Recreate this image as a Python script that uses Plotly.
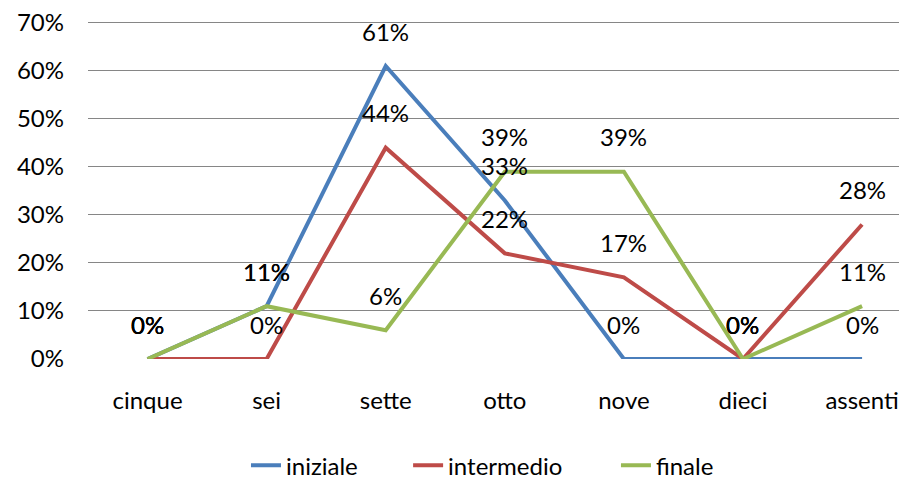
import plotly.graph_objects as go

categories = ["cinque", "sei", "sette", "otto", "nove", "dieci", "assenti"]
iniziale = [0, 11, 61, 33, 0, 0, 0]
intermedio = [0, 0, 44, 22, 17, 0, 28]
finale = [0, 11, 6, 39, 39, 0, 11]
y_ticks = [0, 10, 20, 30, 40, 50, 60, 70]

series = [
    ("iniziale", iniziale, "#4A7EBB", "legend", 0.1948),
    ("intermedio", intermedio, "#BE4B48", "legend2", 0.3947),
    ("finale", finale, "#98B954", "legend3", 0.651),
]

FONT = "Lato"
FS = 24
fig = go.Figure()
annotations = []
legends = {}
for name, vals, color, leg, lx in series:
    fig.add_trace(go.Scatter(
        x=list(range(len(categories))), y=vals, mode="lines", name=name,
        line=dict(color=color, width=4), legend=leg,
    ))
    legends[leg] = dict(orientation="h", x=lx, xanchor="left", y=-0.313, yanchor="middle",
                        font=dict(family=FONT, size=FS, color="#000000"),
                        bgcolor="rgba(0,0,0,0)")
    for i, v in enumerate(vals):
        annotations.append(dict(
            x=i, y=v, text=f"{v}%", showarrow=False, yshift=35,
            font=dict(family=FONT, size=FS, color="#000000"),
        ))

fig.update_layout(
    width=899, height=479,
    margin=dict(l=88, r=0, t=18, b=120, autoexpand=False),
    paper_bgcolor="white", plot_bgcolor="white",
    font=dict(family=FONT, size=FS, color="#000000"),
    annotations=annotations,
    showlegend=True,
    xaxis=dict(
        range=[-0.5, 6.31], tickmode="array",
        tickvals=list(range(len(categories))), ticktext=categories,
        showgrid=False, zeroline=False, showline=False, ticks="",
        ticklabelstandoff=25,
    ),
    yaxis=dict(
        range=[0, 71], tickmode="array", tickvals=y_ticks,
        ticktext=[f"{t}%" for t in y_ticks],
        showgrid=True, gridcolor="#868686", gridwidth=1,
        zeroline=False, showline=False, ticks="",
        ticklabelstandoff=23,
    ),
    **legends,
)

fig.write_html("out.html", config={"displayModeBar": False, "staticPlot": True},
               post_script="document.body.style.margin='0';document.body.style.overflow='hidden';")
